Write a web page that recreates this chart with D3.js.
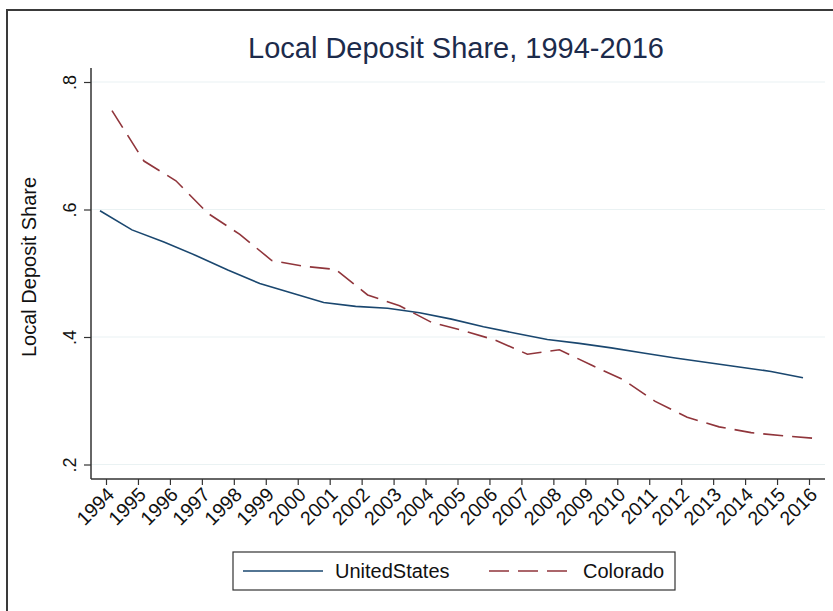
<!DOCTYPE html>
<html><head><meta charset="utf-8">
<script src="https://cdn.jsdelivr.net/npm/d3@7/dist/d3.min.js"></script>
<style>
body{margin:0;background:#fff}
svg{display:block}
text{font-family:"Liberation Sans",Arial,sans-serif}
</style>
</head><body>
<svg id="chart" width="833" height="611"></svg>
<script>
// ---- data ----
const chartTitle = "Local Deposit Share, 1994-2016";
const yAxisTitle = "Local Deposit Share";
const years = [1994,1995,1996,1997,1998,1999,2000,2001,2002,2003,2004,2005,2006,2007,2008,2009,2010,2011,2012,2013,2014,2015,2016];
const unitedStates = [0.598,0.568,0.549,0.528,0.505,0.484,0.469,0.454,0.448,0.445,0.438,0.428,0.416,0.406,0.396,0.390,0.383,0.375,0.367,0.360,0.353,0.346,0.336];
const colorado = [0.755,0.676,0.645,0.594,0.561,0.520,0.511,0.506,0.466,0.449,0.423,0.410,0.395,0.373,0.380,0.356,0.333,0.299,0.274,0.259,0.250,0.245,0.241];
const yTickValues = [0.2,0.4,0.6,0.8];
const yTickLabels = [".2",".4",".6",".8"];
const seriesNames = ["UnitedStates","Colorado"];

// ---- styles / layout ----
const colUS = "#1a476f", colCO = "#90353b";
const gridCol = "#eaf2f3", axisCol = "#333333";
const plotL = 91, plotR = 825, plotT = 68, plotB = 479;

const svg = d3.select("#chart");

// outer frame
svg.append("path").attr("d","M7,611 V10 H833").attr("fill","none").attr("stroke","#3a3a3a").attr("stroke-width",2);

const x = d3.scaleLinear().domain([1994,2016]).range([106,809]);
const y = d3.scaleLinear().domain([0.2,0.8]).range([464.5,82]);

// grid
svg.append("g").selectAll("line").data(yTickValues).join("line")
  .attr("x1",plotL).attr("x2",plotR)
  .attr("y1",d=>y(d)).attr("y2",d=>y(d))
  .attr("stroke",gridCol).attr("stroke-width",1.2);

// y axis
const gy = svg.append("g").attr("transform",`translate(${plotL},0)`)
  .call(d3.axisLeft(y).tickValues(yTickValues).tickSize(7).tickFormat((d,i)=>yTickLabels[i]));
gy.select(".domain").remove();
gy.selectAll(".tick line").attr("stroke",axisCol).attr("stroke-width",1.2);
gy.selectAll(".tick text")
  .attr("transform","rotate(-90)")
  .attr("x",0).attr("y",-15).attr("dy",0)
  .attr("text-anchor","middle")
  .attr("font-size",18).attr("fill","#111")
  .style("font-family",'"Liberation Sans",Arial,sans-serif');
svg.append("line").attr("x1",plotL).attr("x2",plotL).attr("y1",plotT).attr("y2",plotB)
  .attr("stroke",axisCol).attr("stroke-width",1.5);

// x axis
const gx = svg.append("g").attr("transform",`translate(0,${plotB})`)
  .call(d3.axisBottom(x).tickValues(years).tickSize(6).tickFormat(d3.format("d")));
gx.select(".domain").remove();
gx.selectAll(".tick line").attr("stroke",axisCol).attr("stroke-width",1.2);
gx.selectAll(".tick text")
  .attr("transform","translate(4,12) rotate(-45)")
  .attr("x",0).attr("y",0).attr("dy","0.35em")
  .attr("text-anchor","end")
  .attr("font-size",19.5).attr("fill","#111")
  .style("font-family",'"Liberation Sans",Arial,sans-serif');
svg.append("line").attr("x1",plotL).attr("x2",plotR).attr("y1",plotB).attr("y2",plotB)
  .attr("stroke",axisCol).attr("stroke-width",1.5);

// lines
const line = d3.line().x((d,i)=>x(years[i])).y(d=>y(d));
svg.append("path").datum(unitedStates).attr("d",line)
  .attr("transform","translate(-6,0)")
  .attr("fill","none").attr("stroke",colUS).attr("stroke-width",1.6);
svg.append("path").datum(colorado).attr("d",line)
  .attr("transform","translate(6,0)")
  .attr("fill","none").attr("stroke",colCO).attr("stroke-width",1.6)
  .attr("stroke-dasharray","20,9");

// title
svg.append("text").attr("x",456).attr("y",58).attr("text-anchor","middle")
  .attr("font-size",29).attr("fill","#1c2b4b").text(chartTitle);

// y axis title
svg.append("text").attr("transform","translate(36,267) rotate(-90)")
  .attr("text-anchor","middle").attr("font-size",20).attr("fill","#111").text(yAxisTitle);

// legend
const lg = svg.append("g");
lg.append("rect").attr("x",233).attr("y",552).attr("width",442).attr("height",38)
  .attr("fill","#fff").attr("stroke","#333").attr("stroke-width",1.2);
const legItems = [
  {name:seriesNames[0], col:colUS, dash:null, x0:243, tx:335},
  {name:seriesNames[1], col:colCO, dash:"20,9", x0:489, tx:583}
];
legItems.forEach(it=>{
  lg.append("line").attr("x1",it.x0).attr("x2",it.x0+80).attr("y1",571).attr("y2",571)
    .attr("stroke",it.col).attr("stroke-width",1.6).attr("stroke-dasharray",it.dash);
  lg.append("text").attr("x",it.tx).attr("y",578).attr("font-size",20).attr("fill","#111").text(it.name);
});
</script>
</body></html>
